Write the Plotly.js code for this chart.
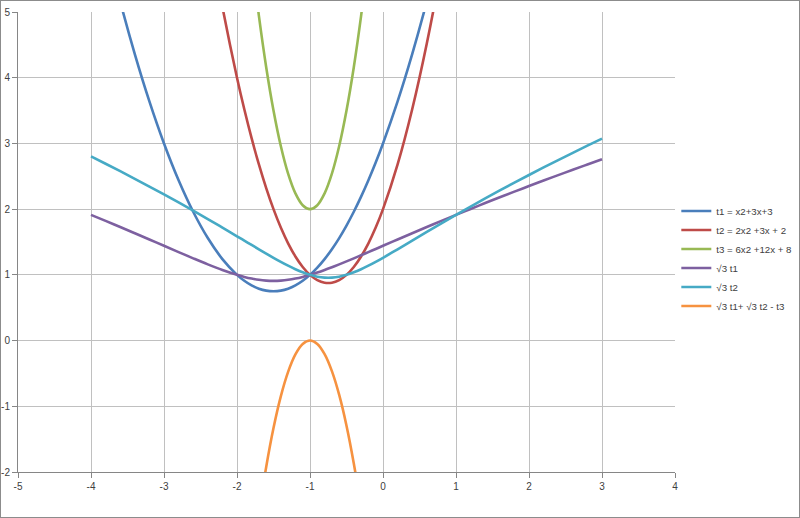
<!DOCTYPE html>
<html>
<head>
<meta charset="utf-8">
<script src="https://cdn.plot.ly/plotly-3.0.1.min.js"></script>
<style>
html,body{margin:0;padding:0;background:#fff;}
#wrap{position:relative;width:800px;height:518px;}
#chart{width:800px;height:518px;}
#frame{position:absolute;left:0;top:0;width:798px;height:516px;border:1px solid #8c8c8c;pointer-events:none;}
</style>
</head>
<body>
<div id="wrap"><div id="chart"></div><div id="frame"></div></div>
<script>
const xs = [-4.0,-3.8,-3.6,-3.4,-3.2,-3.0,-2.8,-2.6,-2.4,-2.2,-2.0,-1.9,-1.8,-1.7,-1.6,-1.5,-1.4,-1.3,-1.2,-1.1,-1.0,-0.9,-0.8,-0.7,-0.6,-0.5,-0.4,-0.3,-0.2,-0.1,0.0,0.2,0.4,0.6,0.8,1.0,1.2,1.4,1.6,1.8,2.0,2.2,2.4,2.6,2.8,3.0];

const t1 = [7,6.04,5.16,4.36,3.64,3,2.44,1.96,1.56,1.24,1,0.91,0.84,0.79,0.76,0.75,0.76,0.79,0.84,0.91,1,1.11,1.24,1.39,1.56,1.75,1.96,2.19,2.44,2.71,3,3.64,4.36,5.16,6.04,7,8.04,9.16,10.36,11.64,13,14.44,15.96,17.56,19.24,21];

const t2 = [22,19.48,17.12,14.92,12.88,11,9.28,7.72,6.32,5.08,4,3.52,3.08,2.68,2.32,2,1.72,1.48,1.28,1.12,1,0.92,0.88,0.88,0.92,1,1.12,1.28,1.48,1.72,2,2.68,3.52,4.52,5.68,7,8.48,10.12,11.92,13.88,16,18.28,20.72,23.32,26.08,29];

const t3 = [56,49.04,42.56,36.56,31.04,26,21.44,17.36,13.76,10.64,8,6.86,5.84,4.94,4.16,3.5,2.96,2.54,2.24,2.06,2,2.06,2.24,2.54,2.96,3.5,4.16,4.94,5.84,6.86,8,10.64,13.76,17.36,21.44,26,31.04,36.56,42.56,49.04,56,63.44,71.36,79.76,88.64,98];

const cbrtT1 = [1.9129,1.8211,1.7281,1.6336,1.5383,1.4422,1.3463,1.2515,1.1598,1.0743,1,0.969,0.9435,0.9244,0.9126,0.9086,0.9126,0.9244,0.9435,0.969,1,1.0354,1.0743,1.116,1.1598,1.2051,1.2515,1.2986,1.3463,1.3942,1.4422,1.5383,1.6336,1.7281,1.8211,1.9129,2.0033,2.0923,2.18,2.2663,2.3513,2.4351,2.5177,2.5992,2.6796,2.7589];

const cbrtT2 = [2.802,2.6907,2.5773,2.4618,2.3441,2.224,2.1014,1.9764,1.8489,1.7191,1.5874,1.5212,1.455,1.389,1.3238,1.2599,1.1981,1.1396,1.0858,1.0385,1,0.9726,0.9583,0.9583,0.9726,1,1.0385,1.0858,1.1396,1.1981,1.2599,1.389,1.5212,1.6534,1.7842,1.9129,2.0392,2.163,2.2843,2.4032,2.5198,2.6343,2.7466,2.857,2.9655,3.0723];

const combo = [-51.2851,-44.5282,-38.2546,-32.4646,-27.1576,-22.3338,-17.9923,-14.1321,-10.7513,-7.8466,-5.4126,-4.3698,-3.4415,-2.6266,-1.9236,-1.3315,-0.8493,-0.476,-0.2107,-0.0525,0,-0.052,-0.2074,-0.4657,-0.8276,-1.2949,-1.87,-2.5556,-3.3541,-4.2677,-5.2979,-7.7127,-10.6052,-13.9785,-17.8347,-22.1742,-26.9975,-32.3047,-38.0957,-44.3705,-51.1289,-58.3706,-66.0957,-74.3038,-82.9949,-92.1688];

const seriesNames = ["t1 = x2+3x+3","t2 = 2x2 +3x + 2","t3 = 6x2 +12x + 8","√3 t1","√3 t2","√3 t1+ √3 t2 - t3"];
const seriesData = [t1,t2,t3,cbrtT1,cbrtT2,combo];
const colors = ["#4A7EBB","#BE4B48","#98B954","#7D60A0","#46AAC5","#F69240"];

const xTicks = [-5,-4,-3,-2,-1,0,1,2,3,4];
const yTicks = [-2,-1,0,1,2,3,4,5];

const traces = seriesData.map((ys,i)=>({
  x: xs, y: ys, name: seriesNames[i], type:'scatter', mode:'lines',
  line:{color:colors[i], width:2.6, shape:'spline', smoothing:1},
  cliponaxis:true
}));

const layout = {
  width:800, height:518,
  margin:{l:18,r:125,t:12,b:46,autoexpand:false},
  paper_bgcolor:'#ffffff', plot_bgcolor:'#ffffff',
  font:{family:'"Liberation Sans", Arial, sans-serif', size:10, color:'#404040'},
  showlegend:true,
  legend:{x:1.002, xanchor:'left', xref:'paper', y:0.599, yanchor:'top', yref:'paper',
    font:{size:9.7,color:'#404040'}, tracegroupgap:0, itemwidth:30,
    bgcolor:'rgba(0,0,0,0)', traceorder:'normal'},
  xaxis:{range:[-5,4], tickvals:xTicks, ticktext:xTicks.map(String),
    showgrid:true, gridcolor:'#c0c0c0', gridwidth:1,
    zeroline:false, showline:true, linecolor:'#868686', linewidth:1,
    ticks:'outside', ticklen:5, tickcolor:'#868686', fixedrange:true},
  yaxis:{range:[-2,5], tickvals:yTicks, ticktext:yTicks.map(String),
    showgrid:true, gridcolor:'#c0c0c0', gridwidth:1,
    zeroline:false, showline:true, linecolor:'#868686', linewidth:1,
    ticks:'outside', ticklen:5, tickcolor:'#868686', fixedrange:true}
};

Plotly.newPlot('chart', traces, layout, {displayModeBar:false, staticPlot:true});
</script>
</body>
</html>
